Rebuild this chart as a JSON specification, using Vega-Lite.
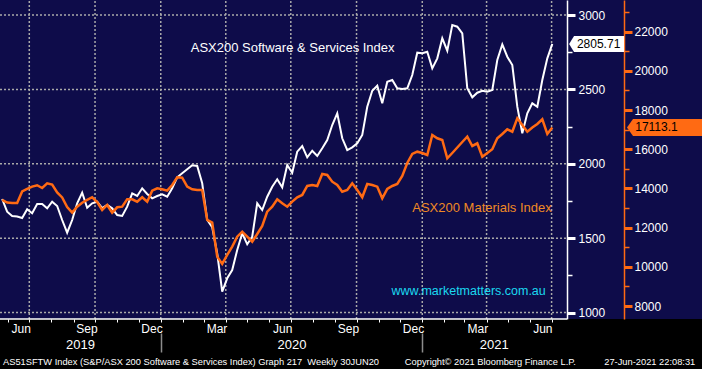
{
  "$schema": "https://vega.github.io/schema/vega-lite/v6.json",
  "width": 702,
  "height": 319,
  "autosize": {"type": "none"},
  "padding": {"left": 0, "top": 0, "right": 0, "bottom": 50},
  "background": "#000000",
  "config": {
    "view": {"fill": "#0e0c4a", "stroke": null},
    "axis": {"labelFont": "Liberation Sans", "labelFontSize": 12, "labelColor": "#ffffff", "title": null, "labelOverlap": false, "labelFlush": false},
    "text": {"font": "Liberation Sans"}
  },
  "title": {
    "text": "AS51SFTW Index (S&P/ASX 200 Software & Services Index) Graph 217\u00a0\u00a0Weekly 30JUN20\u00a0\u00a0\u00a0\u00a0\u00a0\u00a0\u00a0\u00a0\u00a0\u00a0Copyright© 2021 Bloomberg Finance L.P.\u00a0\u00a0\u00a0\u00a0\u00a0\u00a0\u00a0\u00a0\u00a0\u00a0\u00a027-Jun-2021 22:08:31",
    "orient": "bottom", "anchor": "start", "frame": "group", "color": "#ffffff",
    "font": "Liberation Sans", "fontSize": 9.3, "fontWeight": "normal", "offset": 5, "dx": 3
  },
  "datasets": {
    "main": [
      {"d":"2019-05-24","w":1763.5,"m":13412},
      {"d":"2019-05-31","w":1678.2,"m":13283},
      {"d":"2019-06-07","w":1649.3,"m":13259},
      {"d":"2019-06-14","w":1645.9,"m":13259},
      {"d":"2019-06-21","w":1635.8,"m":13846},
      {"d":"2019-06-28","w":1694.3,"m":13973},
      {"d":"2019-07-05","w":1667.4,"m":14091},
      {"d":"2019-07-12","w":1729.9,"m":14162},
      {"d":"2019-07-19","w":1729.9,"m":14024},
      {"d":"2019-07-26","w":1701.0,"m":14264},
      {"d":"2019-08-02","w":1745.4,"m":14193},
      {"d":"2019-08-09","w":1716.5,"m":13795},
      {"d":"2019-08-16","w":1622.4,"m":13540},
      {"d":"2019-08-23","w":1537.1,"m":13055},
      {"d":"2019-08-30","w":1622.4,"m":12764},
      {"d":"2019-09-06","w":1734.6,"m":13070},
      {"d":"2019-09-13","w":1805.9,"m":13274},
      {"d":"2019-09-20","w":1705.1,"m":13412},
      {"d":"2019-09-27","w":1734.6,"m":13550},
      {"d":"2019-10-04","w":1745.4,"m":13310},
      {"d":"2019-10-11","w":1703.0,"m":12902},
      {"d":"2019-10-18","w":1723.2,"m":13157},
      {"d":"2019-10-25","w":1701.0,"m":12764},
      {"d":"2019-11-01","w":1656.0,"m":13039},
      {"d":"2019-11-08","w":1649.3,"m":13070},
      {"d":"2019-11-15","w":1711.8,"m":13448},
      {"d":"2019-11-22","w":1801.8,"m":13448},
      {"d":"2019-11-29","w":1783.7,"m":13325},
      {"d":"2019-12-06","w":1835.4,"m":13550},
      {"d":"2019-12-13","w":1797.1,"m":13325},
      {"d":"2019-12-20","w":1768.2,"m":13887},
      {"d":"2019-12-27","w":1783.7,"m":14009},
      {"d":"2020-01-03","w":1795.1,"m":13958},
      {"d":"2020-01-10","w":1779.0,"m":13887},
      {"d":"2020-01-17","w":1835.4,"m":14177},
      {"d":"2020-01-24","w":1909.3,"m":14570},
      {"d":"2020-01-31","w":1936.2,"m":14550},
      {"d":"2020-02-07","w":1963.1,"m":14091},
      {"d":"2020-02-14","w":1990.0,"m":13958},
      {"d":"2020-02-21","w":1985.3,"m":13922},
      {"d":"2020-02-28","w":1869.0,"m":13922},
      {"d":"2020-03-06","w":1622.4,"m":12391},
      {"d":"2020-03-13","w":1573.3,"m":12254},
      {"d":"2020-03-20","w":1398.6,"m":10519},
      {"d":"2020-03-27","w":1140.6,"m":10146},
      {"d":"2020-04-03","w":1230.6,"m":10605},
      {"d":"2020-04-10","w":1286.4,"m":11029},
      {"d":"2020-04-17","w":1420.8,"m":11539},
      {"d":"2020-04-24","w":1533.0,"m":11794},
      {"d":"2020-05-01","w":1459.1,"m":11539},
      {"d":"2020-05-08","w":1510.2,"m":11284},
      {"d":"2020-05-15","w":1734.6,"m":11677},
      {"d":"2020-05-22","w":1689.6,"m":12085},
      {"d":"2020-05-29","w":1779.0,"m":12815},
      {"d":"2020-06-05","w":1846.2,"m":13070},
      {"d":"2020-06-12","w":1895.9,"m":13448},
      {"d":"2020-06-19","w":1842.1,"m":13244},
      {"d":"2020-06-26","w":1992.0,"m":13070},
      {"d":"2020-07-03","w":1940.3,"m":13325},
      {"d":"2020-07-10","w":2081.4,"m":13550},
      {"d":"2020-07-17","w":2119.7,"m":13667},
      {"d":"2020-07-24","w":2043.7,"m":14126},
      {"d":"2020-07-31","w":2088.1,"m":14177},
      {"d":"2020-08-07","w":2052.5,"m":14126},
      {"d":"2020-08-14","w":2104.2,"m":14739},
      {"d":"2020-08-21","w":2160.0,"m":14688},
      {"d":"2020-08-28","w":2260.8,"m":14346},
      {"d":"2020-09-04","w":2339.4,"m":14177},
      {"d":"2020-09-11","w":2171.4,"m":13836},
      {"d":"2020-09-18","w":2092.8,"m":13922},
      {"d":"2020-09-25","w":2110.9,"m":14264},
      {"d":"2020-10-02","w":2137.8,"m":13922},
      {"d":"2020-10-09","w":2193.6,"m":13550},
      {"d":"2020-10-16","w":2383.8,"m":14228},
      {"d":"2020-10-23","w":2491.3,"m":14177},
      {"d":"2020-10-30","w":2524.9,"m":14091},
      {"d":"2020-11-06","w":2406.6,"m":13499},
      {"d":"2020-11-13","w":2551.8,"m":13973},
      {"d":"2020-11-20","w":2563.2,"m":14126},
      {"d":"2020-11-27","w":2507.4,"m":14228},
      {"d":"2020-12-04","w":2502.7,"m":14637},
      {"d":"2020-12-11","w":2507.4,"m":15300},
      {"d":"2020-12-18","w":2596.8,"m":15759},
      {"d":"2020-12-25","w":2746.7,"m":15877},
      {"d":"2021-01-01","w":2742.6,"m":15810},
      {"d":"2021-01-08","w":2753.4,"m":15708},
      {"d":"2021-01-15","w":2641.8,"m":16729},
      {"d":"2021-01-22","w":2709.0,"m":16560},
      {"d":"2021-01-29","w":2843.4,"m":16474},
      {"d":"2021-02-05","w":2760.1,"m":15540},
      {"d":"2021-02-12","w":2932.8,"m":15810},
      {"d":"2021-02-19","w":2921.4,"m":16091},
      {"d":"2021-02-26","w":2877.0,"m":16372},
      {"d":"2021-03-05","w":2507.4,"m":16642},
      {"d":"2021-03-12","w":2446.9,"m":16168},
      {"d":"2021-03-19","w":2477.9,"m":16305},
      {"d":"2021-03-26","w":2491.3,"m":15622},
      {"d":"2021-04-02","w":2484.6,"m":15810},
      {"d":"2021-04-09","w":2496.0,"m":15999},
      {"d":"2021-04-16","w":2697.6,"m":16560},
      {"d":"2021-04-23","w":2803.1,"m":16780},
      {"d":"2021-04-30","w":2719.8,"m":17020},
      {"d":"2021-05-07","w":2664.0,"m":16897},
      {"d":"2021-05-14","w":2383.8,"m":17581},
      {"d":"2021-05-21","w":2205.0,"m":17239},
      {"d":"2021-05-28","w":2339.4,"m":16897},
      {"d":"2021-06-04","w":2406.6,"m":17112},
      {"d":"2021-06-11","w":2383.8,"m":17290},
      {"d":"2021-06-18","w":2563.2,"m":17530},
      {"d":"2021-06-25","w":2709.0,"m":16780},
      {"d":"2021-07-02","w":2805.71,"m":17113.1}
    ],
    "quarters": [
      {"q":"2019-07-01","v":957,"k":1},{"q":"2019-07-01","v":3101,"k":1},
      {"q":"2019-10-01","v":957,"k":2},{"q":"2019-10-01","v":3101,"k":2},
      {"q":"2020-01-01","v":957,"k":3},{"q":"2020-01-01","v":3101,"k":3},
      {"q":"2020-04-01","v":957,"k":4},{"q":"2020-04-01","v":3101,"k":4},
      {"q":"2020-07-01","v":957,"k":5},{"q":"2020-07-01","v":3101,"k":5},
      {"q":"2020-10-01","v":957,"k":6},{"q":"2020-10-01","v":3101,"k":6},
      {"q":"2021-01-01","v":957,"k":7},{"q":"2021-01-01","v":3101,"k":7},
      {"q":"2021-04-01","v":957,"k":8},{"q":"2021-04-01","v":3101,"k":8},
      {"q":"2021-07-01","v":957,"k":9},{"q":"2021-07-01","v":3101,"k":9}
    ]
  },
  "resolve": {"scale": {"y": "independent"}, "axis": {"x": "independent", "y": "independent"}},
  "layer": [
    {
      "data": {"name": "quarters"},
      "mark": {"type": "line", "stroke": "#a9a9a9", "strokeWidth": 1.5, "strokeDash": [2, 2], "clip": true},
      "encoding": {
        "x": {"field": "q", "type": "temporal",
          "scale": {"type": "utc", "domain": [{"year": 2019, "month": 5, "date": 21, "utc": true}, {"year": 2022, "month": 1, "date": 27, "hours": 12, "utc": true}]},
          "axis": null},
        "y": {"field": "v", "type": "quantitative", "scale": {"domain": [957, 3101], "nice": false, "zero": false}, "axis": null},
        "detail": {"field": "k", "type": "nominal"}
      }
    },
    {
      "data": {"values": [{"g": 1000}, {"g": 1500}, {"g": 2000}, {"g": 2500}, {"g": 3000}]},
      "mark": {"type": "rule", "stroke": "#a9a9a9", "strokeWidth": 1.5, "strokeDash": [2, 2]},
      "encoding": {
        "x": {"datum": {"year": 2019, "month": 5, "date": 21, "utc": true}, "type": "temporal",
          "scale": {"type": "utc", "domain": [{"year": 2019, "month": 5, "date": 21, "utc": true}, {"year": 2022, "month": 1, "date": 27, "hours": 12, "utc": true}]},
          "axis": null},
        "x2": {"datum": {"year": 2021, "month": 7, "date": 22, "hours": 14, "utc": true}},
        "y": {"field": "g", "type": "quantitative", "scale": {"domain": [957, 3101], "nice": false, "zero": false}, "axis": null}
      }
    },
    {
      "data": {"values": [{}]},
      "mark": {"type": "rule", "stroke": "#ffffff", "strokeWidth": 1.5},
      "encoding": {
        "x": {"datum": {"year": 2019, "month": 5, "date": 21, "utc": true}, "type": "temporal",
          "scale": {"type": "utc", "domain": [{"year": 2019, "month": 5, "date": 21, "utc": true}, {"year": 2022, "month": 1, "date": 27, "hours": 12, "utc": true}]},
          "axis": {"orient": "bottom", "grid": false, "ticks": false, "domain": false, "format": "%Y", "labelPadding": 19, "labelFontSize": 13,
            "values": [{"year": 2019, "month": 9, "date": 10, "utc": true}, {"year": 2020, "month": 7, "date": 2, "utc": true}, {"year": 2021, "month": 4, "date": 11, "utc": true}]}},
        "x2": {"datum": {"year": 2021, "month": 7, "date": 22, "hours": 14, "utc": true}},
        "y": {"datum": 957, "type": "quantitative", "scale": {"domain": [957, 3101], "nice": false, "zero": false}, "axis": null}
      }
    },
    {
      "data": {"name": "main"},
      "mark": {"type": "line", "stroke": "#ffffff", "strokeWidth": 2, "clip": true},
      "encoding": {
        "x": {"field": "d", "type": "temporal",
          "scale": {"type": "utc", "domain": [{"year": 2019, "month": 5, "date": 21, "utc": true}, {"year": 2022, "month": 1, "date": 27, "hours": 12, "utc": true}]},
          "axis": {"orient": "bottom", "grid": false, "ticks": false, "domain": false, "format": "%b", "labelPadding": 4,
            "values": [
              {"year": 2019, "month": 6, "date": 19, "utc": true}, {"year": 2019, "month": 9, "date": 19, "utc": true},
              {"year": 2019, "month": 12, "date": 19, "utc": true}, {"year": 2020, "month": 3, "date": 19, "utc": true},
              {"year": 2020, "month": 6, "date": 19, "utc": true}, {"year": 2020, "month": 9, "date": 19, "utc": true},
              {"year": 2020, "month": 12, "date": 19, "utc": true}, {"year": 2021, "month": 3, "date": 19, "utc": true},
              {"year": 2021, "month": 6, "date": 18, "utc": true}]}},
        "y": {"field": "w", "type": "quantitative", "scale": {"domain": [957, 3101], "nice": false, "zero": false},
          "axis": {"orient": "right", "offset": -135, "values": [1000, 1250, 1500, 1750, 2000, 2250, 2500, 2750, 3000], "format": "d",
            "labelExpr": "datum.value % 500 == 0 ? datum.label : ''",
            "domainColor": "#ffffff", "domainWidth": 1.5, "tickColor": "#ffffff",
            "tickSize": {"condition": {"test": "datum.value % 500 == 0", "value": 8}, "value": 5},
            "tickWidth": {"condition": {"test": "datum.value % 500 == 0", "value": 3}, "value": 1.5},
            "labelPadding": 3, "grid": false}}
      }
    },
    {
      "data": {"name": "main"},
      "mark": {"type": "line", "stroke": "#ff6a13", "strokeWidth": 2.5, "clip": true},
      "encoding": {
        "x": {"field": "d", "type": "temporal",
          "scale": {"type": "utc", "domain": [{"year": 2019, "month": 5, "date": 21, "utc": true}, {"year": 2022, "month": 1, "date": 27, "hours": 12, "utc": true}]},
          "axis": {"orient": "bottom", "grid": false, "labels": true, "labelExpr": "''", "labelFontSize": 1, "labelPadding": 0, "domain": false, "ticks": true, "tickSize": 3, "tickColor": "#ffffff", "tickWidth": 1,
            "values": [
              {"year": 2019, "month": 6, "date": 1, "utc": true}, {"year": 2019, "month": 7, "date": 1, "utc": true},
              {"year": 2019, "month": 8, "date": 1, "utc": true}, {"year": 2019, "month": 9, "date": 1, "utc": true},
              {"year": 2019, "month": 10, "date": 1, "utc": true}, {"year": 2019, "month": 11, "date": 1, "utc": true},
              {"year": 2019, "month": 12, "date": 1, "utc": true}, {"year": 2020, "month": 1, "date": 1, "utc": true},
              {"year": 2020, "month": 2, "date": 1, "utc": true}, {"year": 2020, "month": 3, "date": 1, "utc": true},
              {"year": 2020, "month": 4, "date": 1, "utc": true}, {"year": 2020, "month": 5, "date": 1, "utc": true},
              {"year": 2020, "month": 6, "date": 1, "utc": true}, {"year": 2020, "month": 7, "date": 1, "utc": true},
              {"year": 2020, "month": 8, "date": 1, "utc": true}, {"year": 2020, "month": 9, "date": 1, "utc": true},
              {"year": 2020, "month": 10, "date": 1, "utc": true}, {"year": 2020, "month": 11, "date": 1, "utc": true},
              {"year": 2020, "month": 12, "date": 1, "utc": true}, {"year": 2021, "month": 1, "date": 1, "utc": true},
              {"year": 2021, "month": 2, "date": 1, "utc": true}, {"year": 2021, "month": 3, "date": 1, "utc": true},
              {"year": 2021, "month": 4, "date": 1, "utc": true}, {"year": 2021, "month": 5, "date": 1, "utc": true},
              {"year": 2021, "month": 6, "date": 1, "utc": true}, {"year": 2021, "month": 7, "date": 1, "utc": true}]}},
        "y": {"field": "m", "type": "quantitative", "scale": {"domain": [7337, 23618], "nice": false, "zero": false},
          "axis": {"orient": "right", "offset": -78, "values": [8000, 9000, 10000, 11000, 12000, 13000, 14000, 15000, 16000, 17000, 18000, 19000, 20000, 21000, 22000, 23000], "format": "d",
            "labelExpr": "datum.value % 2000 == 0 ? datum.label : ''",
            "domainColor": "#ff6a13", "domainWidth": 1.5, "tickColor": "#ff6a13",
            "tickSize": {"condition": {"test": "datum.value % 2000 == 0", "value": 8}, "value": 5},
            "tickWidth": {"condition": {"test": "datum.value % 2000 == 0", "value": 3}, "value": 1.5},
            "labelPadding": 2, "grid": false}}
      }
    },
    {
      "data": {"values": [{}]},
      "mark": {"type": "point", "filled": true, "fill": "#ffffff", "opacity": 1, "strokeWidth": 0, "size": 3025,
        "shape": "M-1,0L-0.82,-0.29L1,-0.29L1,0.29L-0.82,0.29Z"},
      "encoding": {
        "x": {"datum": {"year": 2021, "month": 9, "date": 2, "utc": true}, "type": "temporal",
          "scale": {"type": "utc", "domain": [{"year": 2019, "month": 5, "date": 21, "utc": true}, {"year": 2022, "month": 1, "date": 27, "hours": 12, "utc": true}]},
          "axis": {"orient": "bottom", "grid": false, "labels": true, "labelExpr": "''", "labelFontSize": 1, "labelPadding": 0, "domain": false, "ticks": true, "tickSize": 19, "tickColor": "#8c8c8c", "tickWidth": 1.5, "offset": 14,
            "values": [{"year": 2020, "month": 1, "date": 1, "utc": true}, {"year": 2021, "month": 1, "date": 1, "utc": true}]}},
        "y": {"datum": 2805.71, "type": "quantitative", "scale": {"domain": [957, 3101], "nice": false, "zero": false}, "axis": null}
      }
    },
    {
      "data": {"values": [{}]},
      "mark": {"type": "text", "text": "2805.71", "color": "#000000", "fontSize": 12, "dx": 2, "align": "center", "baseline": "middle"},
      "encoding": {
        "x": {"datum": {"year": 2021, "month": 9, "date": 2, "utc": true}, "type": "temporal",
          "scale": {"type": "utc", "domain": [{"year": 2019, "month": 5, "date": 21, "utc": true}, {"year": 2022, "month": 1, "date": 27, "hours": 12, "utc": true}]}, "axis": null},
        "y": {"datum": 2805.71, "type": "quantitative", "scale": {"domain": [957, 3101], "nice": false, "zero": false}, "axis": null}
      }
    },
    {
      "data": {"values": [{}]},
      "mark": {"type": "point", "filled": true, "fill": "#ff6a13", "opacity": 1, "strokeWidth": 0, "size": 5625,
        "shape": "M-1,0L-0.84,-0.227L1,-0.227L1,0.227L-0.84,0.227Z"},
      "encoding": {
        "x": {"datum": {"year": 2021, "month": 12, "date": 6, "utc": true}, "type": "temporal",
          "scale": {"type": "utc", "domain": [{"year": 2019, "month": 5, "date": 21, "utc": true}, {"year": 2022, "month": 1, "date": 27, "hours": 12, "utc": true}]}, "axis": null},
        "y": {"datum": 17113.1, "type": "quantitative", "scale": {"domain": [7337, 23618], "nice": false, "zero": false}, "axis": null}
      }
    },
    {
      "data": {"values": [{}]},
      "mark": {"type": "text", "text": "17113.1", "color": "#000000", "fontSize": 12, "dx": -8, "align": "center", "baseline": "middle"},
      "encoding": {
        "x": {"datum": {"year": 2021, "month": 12, "date": 6, "utc": true}, "type": "temporal",
          "scale": {"type": "utc", "domain": [{"year": 2019, "month": 5, "date": 21, "utc": true}, {"year": 2022, "month": 1, "date": 27, "hours": 12, "utc": true}]}, "axis": null},
        "y": {"datum": 17113.1, "type": "quantitative", "scale": {"domain": [7337, 23618], "nice": false, "zero": false}, "axis": null}
      }
    },
    {
      "data": {"values": [{}]},
      "mark": {"type": "text", "text": "ASX200 Software & Services Index", "color": "#ffffff", "fontSize": 13, "align": "left", "baseline": "middle"},
      "encoding": {
        "x": {"datum": {"year": 2020, "month": 2, "date": 12, "utc": true}, "type": "temporal",
          "scale": {"type": "utc", "domain": [{"year": 2019, "month": 5, "date": 21, "utc": true}, {"year": 2022, "month": 1, "date": 27, "hours": 12, "utc": true}]}, "axis": null},
        "y": {"datum": 2778, "type": "quantitative", "scale": {"domain": [957, 3101], "nice": false, "zero": false}, "axis": null}
      }
    },
    {
      "data": {"values": [{}]},
      "mark": {"type": "text", "text": "ASX200 Materials Index", "color": "#f08a24", "fontSize": 13, "align": "left", "baseline": "middle"},
      "encoding": {
        "x": {"datum": {"year": 2020, "month": 12, "date": 18, "utc": true}, "type": "temporal",
          "scale": {"type": "utc", "domain": [{"year": 2019, "month": 5, "date": 21, "utc": true}, {"year": 2022, "month": 1, "date": 27, "hours": 12, "utc": true}]}, "axis": null},
        "y": {"datum": 1701, "type": "quantitative", "scale": {"domain": [957, 3101], "nice": false, "zero": false}, "axis": null}
      }
    },
    {
      "data": {"values": [{}]},
      "mark": {"type": "text", "text": "www.marketmatters.com.au", "color": "#1ad8f0", "fontSize": 12.5, "align": "left", "baseline": "middle"},
      "encoding": {
        "x": {"datum": {"year": 2020, "month": 11, "date": 19, "utc": true}, "type": "temporal",
          "scale": {"type": "utc", "domain": [{"year": 2019, "month": 5, "date": 21, "utc": true}, {"year": 2022, "month": 1, "date": 27, "hours": 12, "utc": true}]}, "axis": null},
        "y": {"datum": 1147, "type": "quantitative", "scale": {"domain": [957, 3101], "nice": false, "zero": false}, "axis": null}
      }
    }
  ]
}
